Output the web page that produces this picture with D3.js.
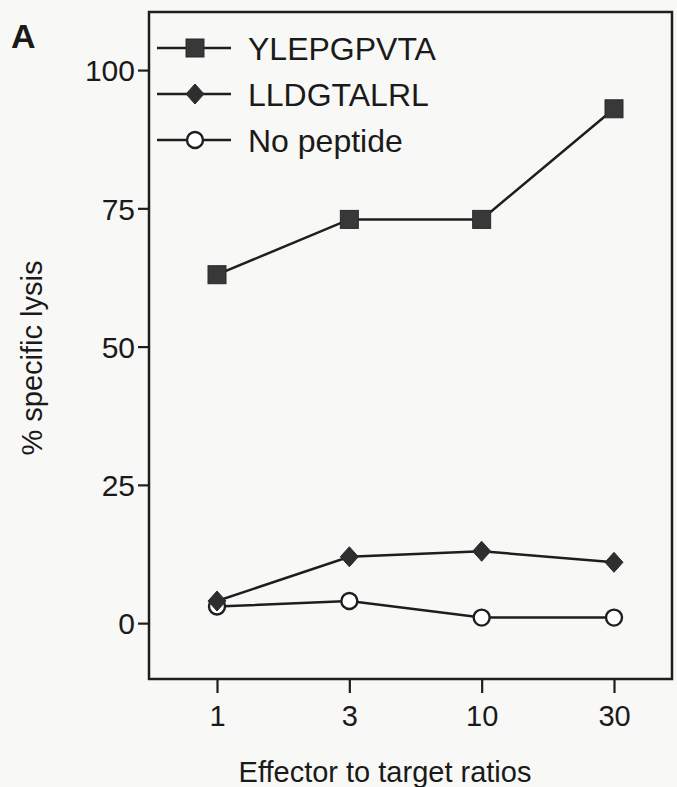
<!DOCTYPE html>
<html>
<head>
<meta charset="utf-8">
<script src="https://cdn.jsdelivr.net/npm/d3@7"></script>
<style>
  html, body { margin: 0; padding: 0; background: #f8f8f6; }
  svg { display: block; }
  text { font-family: "Liberation Sans", Arial, sans-serif; fill: #1a1a1a; }
</style>
</head>
<body>
<div id="chart"></div>
<script>
// ---- data ----
const ratios = ["1", "3", "10", "30"];
const seriesNames = ["YLEPGPVTA", "LLDGTALRL", "No peptide"];
const yleValues = [63, 73, 73, 93];
const lldValues = [4, 12, 13, 11];
const noPepValues = [3, 4, 1, 1];
const yTicks = [0, 25, 50, 75, 100];

const WIDTH = 677, HEIGHT = 787;
const box = { left: 149, top: 12, right: 672, bottom: 679 };
const INK = "#1e1e1e";

const svg = d3.select("#chart").append("svg")
    .attr("width", WIDTH)
    .attr("height", HEIGHT);

// scales
const x = d3.scalePoint()
    .domain(ratios)
    .range([217, 614]);

const y = d3.scaleLinear()
    .domain([-10.1, 110.5])
    .range([box.bottom, box.top]);

// frame
svg.append("rect")
    .attr("x", box.left)
    .attr("y", box.top)
    .attr("width", box.right - box.left)
    .attr("height", box.bottom - box.top)
    .attr("fill", "none")
    .attr("stroke", INK)
    .attr("stroke-width", 2.5);

// y axis
const yAxis = svg.append("g")
    .attr("transform", `translate(${box.left},0)`)
    .call(d3.axisLeft(y).tickValues(yTicks).tickSize(11).tickPadding(3));
yAxis.select(".domain").remove();
yAxis.selectAll("line").attr("stroke", INK).attr("stroke-width", 2.2);
yAxis.selectAll("text")
    .attr("font-size", 30)
    .attr("dy", "0.36em")
    .style("font-family", "'Liberation Sans', Arial, sans-serif")
    .attr("fill", "#1a1a1a");

// x axis
const xAxis = svg.append("g")
    .attr("transform", `translate(0,${box.bottom})`)
    .call(d3.axisBottom(x).tickSize(14).tickPadding(12));
xAxis.select(".domain").remove();
xAxis.selectAll("line").attr("stroke", INK).attr("stroke-width", 2.2);
xAxis.selectAll("text")
    .attr("font-size", 29)
    .style("font-family", "'Liberation Sans', Arial, sans-serif")
    .attr("fill", "#1a1a1a");

// axis titles
svg.append("text")
    .attr("transform", "translate(42,358) rotate(-90)")
    .attr("text-anchor", "middle")
    .attr("font-size", 29)
    .text("% specific lysis");

svg.append("text")
    .attr("x", 385)
    .attr("y", 782)
    .attr("text-anchor", "middle")
    .attr("font-size", 29)
    .text("Effector to target ratios");

// panel letter
svg.append("text")
    .attr("x", 11)
    .attr("y", 48)
    .attr("font-size", 34)
    .attr("font-weight", "bold")
    .text("A");

// series
const series = [
  { name: seriesNames[0], values: yleValues, shape: "square" },
  { name: seriesNames[1], values: lldValues, shape: "diamond" },
  { name: seriesNames[2], values: noPepValues, shape: "circle" }
];

const line = d3.line()
    .x((d, i) => x(ratios[i]))
    .y(d => y(d));

// draw a marker centred on (cx, cy)
const drawMarker = (g, shape, cx, cy) => {
  if (shape === "square") {
    g.append("rect")
      .attr("x", cx - 9).attr("y", cy - 9)
      .attr("width", 18).attr("height", 18)
      .attr("fill", "#383838")
      .attr("stroke", "#2a2a2a").attr("stroke-width", 1);
  } else if (shape === "diamond") {
    g.append("path")
      .attr("d", `M${cx},${cy - 10}L${cx + 9},${cy}L${cx},${cy + 10}L${cx - 9},${cy}Z`)
      .attr("fill", "#2e2e2e")
      .attr("stroke", "#2a2a2a").attr("stroke-width", 1);
  } else {
    g.append("circle")
      .attr("cx", cx).attr("cy", cy).attr("r", 8)
      .attr("fill", "#ffffff")
      .attr("stroke", INK).attr("stroke-width", 2.4);
  }
};

// open circles first, filled markers on top (diamond sits over the circle at 1:1)
const drawOrder = [series[2], series[1], series[0]];
drawOrder.forEach(s => {
  const g = svg.append("g");
  g.append("path")
    .datum(s.values)
    .attr("d", line)
    .attr("fill", "none")
    .attr("stroke", INK)
    .attr("stroke-width", 2.5);
  s.values.forEach((v, i) => drawMarker(g, s.shape, x(ratios[i]), y(v)));
});

// legend
const legend = svg.append("g");
series.forEach((s, i) => {
  const cy = 48 + i * 46;
  legend.append("line")
    .attr("x1", 157).attr("x2", 231)
    .attr("y1", cy).attr("y2", cy)
    .attr("stroke", INK).attr("stroke-width", 2.5);
  drawMarker(legend, s.shape, 195, cy);
  legend.append("text")
    .attr("x", 248)
    .attr("y", cy)
    .attr("dy", "0.36em")
    .attr("font-size", 32)
    .text(s.name);
});
</script>
</body>
</html>
